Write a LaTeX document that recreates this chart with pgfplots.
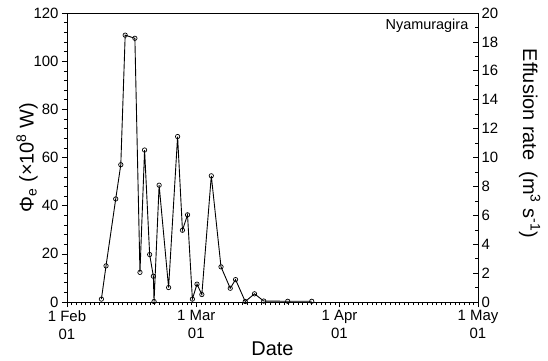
\documentclass[border=0pt]{standalone}
\usepackage{fontspec}
\setmainfont{Liberation Sans}
\usepackage{pgfplots}
\pgfplotsset{compat=1.18}
\begin{document}
\begin{tikzpicture}
\pgfplotsset{
  common/.style={
    scale only axis, width=411bp, height=289bp,
    xmin=0, xmax=89,
    /pgf/number format/assume math mode=true,
    ticklabel style={font=\fontsize{15}{17}\selectfont},
    label style={font=\fontsize{20}{24}\selectfont},
    major tick length=5bp, minor tick length=3bp,
    every tick/.style={black, line width=0.6pt},
    every minor tick/.style={black, line width=0.5pt},
    axis line style={line width=0.8pt},
  }
}
\begin{axis}[common,
  ymin=0, ymax=120,
  xtick={0,28,59,89},
  xticklabels={{1 Feb\\01},{1 Mar\\01},{1 Apr\\01},{1 May\\01}},
  xticklabel style={align=center, font=\fontsize{15}{18}\selectfont},
  minor xtick={0,1,...,89},
  ytick={0,20,...,120},
  minor ytick={0,4,...,120},
  xtick pos=bottom, ytick pos=left,
  tick align=outside,
  xlabel={Date},
  xlabel style={yshift=4bp},
  ylabel={Φ\textsubscript{e} (×10\textsuperscript{8} W)},
  ylabel style={yshift=-11bp},
]
\addplot[black, line width=0.9pt, mark=o, mark size=2.2pt, mark options={fill=white, line width=0.7pt}] coordinates {
(7.45,1.2) (8.45,15.0) (10.55,42.8) (11.65,57.0) (12.6,110.8) (14.7,109.5)
(15.8,12.3) (16.8,63.1) (17.9,19.7) (18.7,10.7) (18.85,0.2) (19.95,48.5)
(22.0,6.0) (23.95,68.7) (25.0,29.8) (26.1,36.2) (27.15,1.2) (28.15,7.4)
(29.2,3.1) (31.25,52.4) (33.35,14.6) (35.35,5.7) (36.5,9.3) (38.6,0.2)
(40.6,3.4) (42.6,0.4) (47.8,0.3) (53.0,0.3)
};
\node[anchor=north east, font=\fontsize{14.5}{16}\selectfont] at (rel axis cs:0.985,0.99) {Nyamuragira};
\end{axis}
\begin{axis}[common,
  ymin=0, ymax=20,
  axis y line*=right, axis x line=none,
  ytick={0,2,...,20}, minor ytick={1,3,...,19},
  tick align=inside,
  ylabel={Effusion rate\ \ (m\textsuperscript{3} s\textsuperscript{-1})},
  ylabel style={rotate=180, yshift=14bp, xshift=-14bp},
]
\end{axis}
\pgfresetboundingbox
\useasboundingbox (-67bp,-59bp) rectangle (481bp,302bp);
\end{tikzpicture}
\end{document}
